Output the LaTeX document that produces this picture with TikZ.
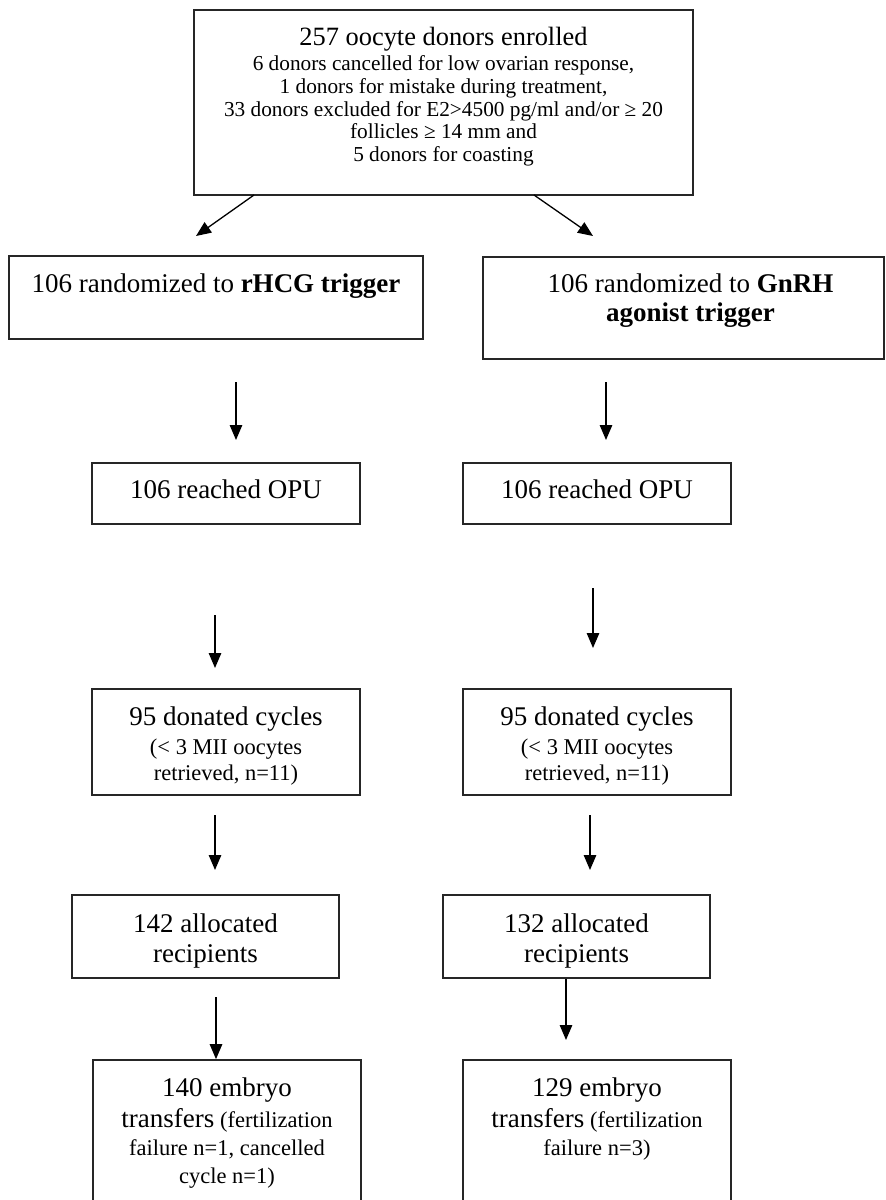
\documentclass[tikz,border=0pt]{standalone}
\usepackage{fontspec}
\setmainfont{Liberation Serif}
\usetikzlibrary{positioning}
\usetikzlibrary{arrows.meta}
\newcommand{\bigsz}{\fontsize{27}{30}\selectfont}
\newcommand{\smsz}{\fontsize{22.5}{26}\selectfont}
\tikzset{
  box/.style 2 args={
    rectangle,
    draw=black!85,
    line width=1.7pt,
    minimum width=#1pt,
    minimum height=#2pt,
    inner sep=0pt},
  lbl/.style={align=center, inner sep=0pt, anchor=north, font=\bigsz},
  arr/.style={->, line width=1.3pt},
}

\begin{document}
\begin{tikzpicture}[x=1pt, y=-1pt, >={Triangle[length=15pt,width=12.5pt]}]
  \useasboundingbox (0,0) rectangle (886,1200);
  \clip (0,0) rectangle (886,1200);

  % boxes
  \node[box={499}{185}] (enrol) at (443.5,102.5) {};
  \node[box={414}{83}] (rhcg) at (216,297.5) {};
  \node[box={401}{102}] (gnrh) at (683.5,308) {};
  \node[box={268}{61}] (opu1) at (226,493.5) {};
  \node[box={268}{61}] (opu2) at (597,493.5) {};
  \node[box={268}{106}] (don1) at (226,742) {};
  \node[box={268}{106}] (don2) at (597,742) {};
  \node[box={267}{83}] (alloc1) at (205.5,936.5) {};
  \node[box={267}{83}] (alloc2) at (576.5,936.5) {};
  \node[box={268}{145}] (emb1) at (227,1132.5) {};
  \node[box={268}{145}] (emb2) at (597,1132.5) {};

  % texts
  \node[lbl, below=18pt of enrol.north, font=\fontsize{21.3}{22.7}\selectfont] (enrol-t)
    {{\fontsize{26.4}{30}\selectfont 257 oocyte donors enrolled}\\[2.3pt]
     6 donors cancelled for low ovarian response,\\
     1 donors for mistake during treatment,\\
     33 donors excluded for E2>4500 pg/ml and/or ≥ 20\\
     follicles ≥ 14 mm and\\
     5 donors for coasting};
  \node[lbl, below=18pt of rhcg.north] (rhcg-t) {106 randomized to \textbf{rHCG trigger}};
  \node[lbl, below=17pt of gnrh.north, xshift=7pt, font=\fontsize{27}{29}\selectfont] (gnrh-t)
    {106 randomized to \textbf{GnRH}\\\textbf{agonist trigger}};
  \foreach \s/\n in {1/142, 2/132} {
    \node[lbl, below=17pt of opu\s.north] (opu\s-t) {106 reached OPU};
    \node[lbl, below=18pt of don\s.north, font=\smsz] (don\s-t)
      {{\bigsz 95 donated cycles}\\[3pt] (< 3 MII oocytes\\ retrieved, n=11)};
    \node[lbl, below=19pt of alloc\s.north] (alloc\s-t) {\n{} allocated\\ recipients};
  }
  \node[lbl, below=18pt of emb1.north, font=\fontsize{22.5}{28}\selectfont] (emb1-t)
    {{\bigsz 140 embryo}\\[3pt] {\bigsz transfers} (fertilization\\ failure n=1, cancelled\\ cycle n=1)};
  \node[lbl, below=18pt of emb2.north, font=\fontsize{22.5}{28}\selectfont] (emb2-t)
    {{\bigsz 129 embryo}\\[3pt] {\bigsz transfers} (fertilization\\ failure n=3)};

  % arrows
  \foreach \xa/\ya/\xb/\yb [count=\i] in {254/195/196/236, 534/195/593/236,
      236/382/236/440, 606/382/606/440, 215/615/215/668, 593/588/593/648,
      215/815/215/870, 590/815/590/870} {
    \coordinate (from\i) at (\xa,\ya);
    \coordinate (to\i) at (\xb,\yb);
    \draw[arr] (from\i) -- (to\i);
  }
  \coordinate (from9) at (216,997);
  \draw[arr] (from9) -- (from9 |- emb1.north);
  \coordinate (to10) at (566,1040);
  \draw[arr] (to10 |- alloc2.south) -- (to10);
\end{tikzpicture}
\end{document}
